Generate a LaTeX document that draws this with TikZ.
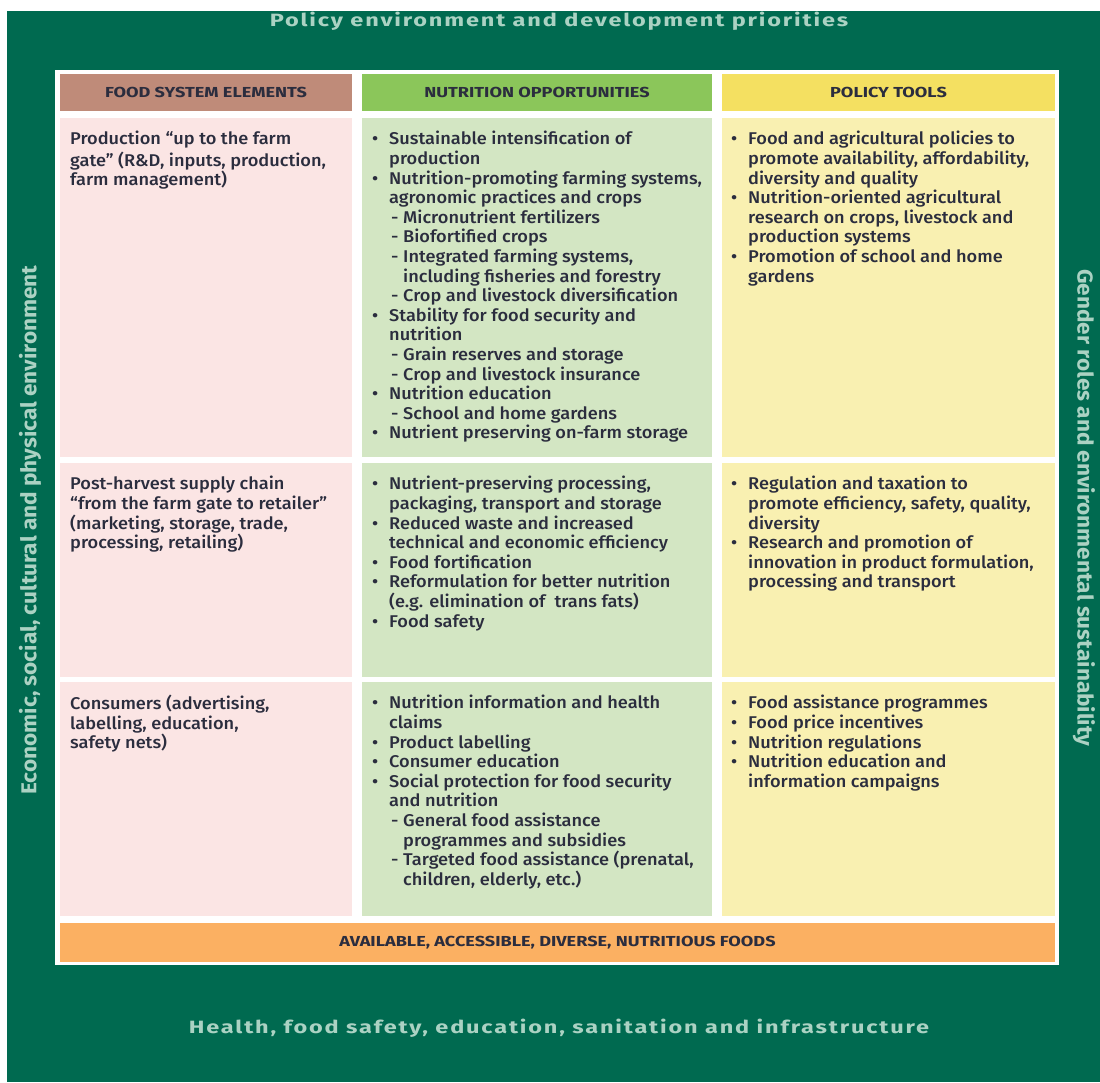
\documentclass[tikz,border=0pt]{standalone}
\usepackage{fontspec}
\IfFontExistsTF{Fira Sans Medium}
  {\newfontfamily\bodyfont{Fira Sans Medium}[FakeStretch=1.07]}
  {\newfontfamily\bodyfont{Fira Sans}[FakeStretch=1.09]}
\newfontfamily\hdrfont{Fira Sans}[FakeStretch=1.25]
\newfontfamily\ttlfont{Fira Sans}[FakeStretch=1.32,LetterSpace=10.3]
\newfontfamily\vrtfont{Fira Sans}[FakeStretch=1.05]
\setmainfont{Fira Sans}
\definecolor{dkgreen}{HTML}{006A50}
\definecolor{frametxt}{HTML}{ABD2C3}
\definecolor{hdrA}{HTML}{BF8B79}
\definecolor{hdrB}{HTML}{8BC65A}
\definecolor{hdrC}{HTML}{F4E061}
\definecolor{cellA}{HTML}{FBE5E4}
\definecolor{cellB}{HTML}{D3E6C3}
\definecolor{cellC}{HTML}{F9F0B1}
\definecolor{barO}{HTML}{FBB062}
\definecolor{txt}{HTML}{2B2D3E}
\newcommand\myb{\makebox[17pt][l]{•}}
\newcommand\myc{\hspace*{17pt}}
\newcommand\mys{\hspace*{17pt}\makebox[14pt][l]{\hspace{2pt}-}}
\newcommand\mysc{\hspace*{31pt}}
\tikzset{
  cellbox/.style={anchor=north west,inner sep=0pt,outer sep=0pt,draw=none,minimum width=#1},
  hdrtxt/.style={font=\hdrfont\fontsize{14.5}{17}\selectfont\bfseries,text=txt},
  celltxt/.style={anchor=north west,inner sep=0pt,align=left,text=txt,font=\bodyfont\fontsize{17}{19.6}\selectfont},
  frametitle/.style={font=\ttlfont\fontsize{17.8}{21}\selectfont\bfseries,text=frametxt},
  vrttitle/.style={font=\vrtfont\fontsize{21.5}{24}\selectfont\bfseries,text=frametxt}
}
\begin{document}
\begin{tikzpicture}[x=1pt,y=-1pt]
\useasboundingbox (0,0) rectangle (1100,1082);
\fill[white] (0,0) rectangle (1100,1082);
\node[cellbox=1093pt,minimum height=1071pt,fill=dkgreen] (frame) at (7,11) {};
\node[cellbox=1004pt,minimum height=895pt,fill=white] (panel) at (55,70) {};
% headers
\node[cellbox=292pt,minimum height=37pt,fill=hdrA] (hA) at (60,74) {};
\node[cellbox=350pt,minimum height=37pt,fill=hdrB] (hB) at (362,74) {};
\node[cellbox=333pt,minimum height=37pt,fill=hdrC] (hC) at (722,74) {};
\node[hdrtxt] (hAt) at (hA.center) {FOOD SYSTEM ELEMENTS};
\node[hdrtxt] (hBt) at (hB.center) {NUTRITION OPPORTUNITIES};
\node[hdrtxt] (hCt) at (hC.center) {POLICY TOOLS};
% row 1
\node[cellbox=292pt,minimum height=339pt,fill=cellA] (a1) at (60,118) {};
\node[cellbox=350pt,minimum height=339pt,fill=cellB] (b1) at (362,118) {};
\node[cellbox=333pt,minimum height=339pt,fill=cellC] (c1) at (722,118) {};
% row 2
\node[cellbox=292pt,minimum height=214pt,fill=cellA] (a2) at (60,463) {};
\node[cellbox=350pt,minimum height=214pt,fill=cellB] (b2) at (362,463) {};
\node[cellbox=333pt,minimum height=214pt,fill=cellC] (c2) at (722,463) {};
% row 3
\node[cellbox=292pt,minimum height=234pt,fill=cellA] (a3) at (60,682) {};
\node[cellbox=350pt,minimum height=234pt,fill=cellB] (b3) at (362,682) {};
\node[cellbox=333pt,minimum height=234pt,fill=cellC] (c3) at (722,682) {};
% bottom bar
\node[cellbox=995pt,minimum height=39pt,fill=barO] (bar) at (60,923) {};
\node[hdrtxt] (bart) at (bar.center) {AVAILABLE, ACCESSIBLE, DIVERSE, NUTRITIOUS FOODS};
% frame texts
\node[frametitle] (top) at (559,21) {Policy environment and development priorities};
\node[frametitle] (bot) at (559,1028) {Health, food safety, education, sanitation and infrastructure};
\node[vrttitle,rotate=90] (lft) at (30,530) {Economic, social, cultural and physical environment};
\node[vrttitle,rotate=-90] (rgt) at (1084,508) {Gender roles and environmental sustainability};
% cell texts
\node[celltxt] (a1t) at ([xshift=10pt,yshift=-13pt]a1.north west) {\strut Production “up to the farm\\ gate” (R\&D, inputs, production,\\ farm management)};
\node[celltxt] (a2t) at ([xshift=10pt,yshift=-13pt]a2.north west) {\strut Post-harvest supply chain\\ “from the farm gate to retailer”\\ (marketing, storage, trade,\\ processing, retailing)};
\node[celltxt] (a3t) at ([xshift=10pt,yshift=-13pt]a3.north west) {\strut Consumers (advertising,\\ labelling, education,\\ safety nets)};
\node[celltxt] (b1t) at ([xshift=10pt,yshift=-13pt]b1.north west) {\strut\myb Sustainable intensification of\\
\myc production\\
\myb Nutrition-promoting farming systems,\\
\myc agronomic practices and crops\\
\mys Micronutrient fertilizers\\
\mys Biofortified crops\\
\mys Integrated farming systems,\\
\mysc including fisheries and forestry\\
\mys Crop and livestock diversification\\
\myb Stability for food security and\\
\myc nutrition\\
\mys Grain reserves and storage\\
\mys Crop and livestock insurance\\
\myb Nutrition education\\
\mys School and home gardens\\
\myb Nutrient preserving on-farm storage};
\node[celltxt] (c1t) at ([xshift=9pt,yshift=-13pt]c1.north west) {\strut\myb Food and agricultural policies to\\
\myc promote availability, affordability,\\
\myc diversity and quality\\
\myb Nutrition-oriented agricultural\\
\myc research on crops, livestock and\\
\myc production systems\\
\myb Promotion of school and home\\
\myc gardens};
\node[celltxt] (b2t) at ([xshift=10pt,yshift=-13pt]b2.north west) {\strut\myb Nutrient-preserving processing,\\
\myc packaging, transport and storage\\
\myb Reduced waste and increased\\
\myc technical and economic efficiency\\
\myb Food fortification\\
\myb Reformulation for better nutrition\\
\myc (e.g. elimination of\ \ trans fats)\\
\myb Food safety};
\node[celltxt] (c2t) at ([xshift=9pt,yshift=-13pt]c2.north west) {\strut\myb Regulation and taxation to\\
\myc promote efficiency, safety, quality,\\
\myc diversity\\
\myb Research and promotion of\\
\myc innovation in product formulation,\\
\myc processing and transport};
\node[celltxt] (b3t) at ([xshift=10pt,yshift=-13pt]b3.north west) {\strut\myb Nutrition information and health\\
\myc claims\\
\myb Product labelling\\
\myb Consumer education\\
\myb Social protection for food security\\
\myc and nutrition\\
\mys General food assistance\\
\mysc programmes and subsidies\\
\mys Targeted food assistance (prenatal,\\
\mysc children, elderly, etc.)};
\node[celltxt] (c3t) at ([xshift=9pt,yshift=-13pt]c3.north west) {\strut\myb Food assistance programmes\\
\myb Food price incentives\\
\myb Nutrition regulations\\
\myb Nutrition education and\\
\myc information campaigns};
\end{tikzpicture}
\end{document}
